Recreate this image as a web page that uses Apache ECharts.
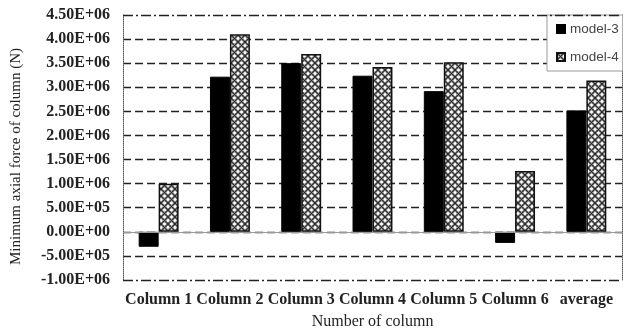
<!DOCTYPE html>
<html>
<head>
<meta charset="utf-8">
<script src="https://cdn.jsdelivr.net/npm/echarts@6/dist/echarts.min.js"></script>
<style>html,body{margin:0;padding:0;background:#fff;}#c{width:623px;height:336px;}</style>
</head>
<body>
<div id="c"></div>
<script>
const categories = ['Column 1','Column 2','Column 3','Column 4','Column 5','Column 6','average'];
const model3 = [-3.1e5, 3.22e6, 3.5e6, 3.24e6, 2.92e6, -2.3e5, 2.52e6];
const model4 = [1.0e6, 4.1e6, 3.69e6, 3.42e6, 3.52e6, 1.26e6, 3.14e6];
const yMin = -1.0e6, yMax = 4.5e6, yStep = 5e5;

function makePattern() {
  const s = 7;
  const c = document.createElement('canvas');
  c.width = s; c.height = s;
  const g = c.getContext('2d');
  g.fillStyle = '#fff'; g.fillRect(0, 0, s, s);
  g.strokeStyle = '#222'; g.lineWidth = 1.1;
  g.beginPath();
  g.moveTo(0, 0); g.lineTo(s, s);
  g.moveTo(s, 0); g.lineTo(0, s);
  g.stroke();
  g.strokeStyle = '#555'; g.lineWidth = 0.8;
  [[s/2, 0], [0, s/2], [s, s/2], [s/2, s]].forEach(function (p) {
    g.beginPath(); g.arc(p[0], p[1], 2.0, 0, Math.PI * 2); g.stroke();
  });
  return c;
}

function fmt(v) {
  if (v === 0) return '0.00E+00';
  const s = Math.abs(v).toExponential(2).split('e');
  const e = parseInt(s[1], 10);
  return (v < 0 ? '-' : '') + s[0] + 'E' + (e < 0 ? '-' : '+') + String(Math.abs(e)).padStart(2, '0');
}

const chart = echarts.init(document.getElementById('c'), null, {renderer: 'canvas'});
const serif = 'Liberation Serif';
chart.setOption({
  animation: false,
  backgroundColor: '#fff',
  grid: {left: 123, right: 1, top: 15, bottom: 56, containLabel: false},
  legend: {
    orient: 'vertical',
    left: 547, top: 15,
    padding: [7, 4, 7, 9],
    itemGap: 14,
    itemWidth: 8, itemHeight: 8,
    backgroundColor: '#fff',
    borderColor: '#999', borderWidth: 1,
    icon: 'rect',
    textStyle: {fontFamily: 'Liberation Sans', fontSize: 13.5, color: '#444'},
    data: ['model-3', 'model-4']
  },
  xAxis: {
    type: 'category',
    data: categories,
    axisLine: {show: false, onZero: false},
    axisTick: {show: false},
    axisLabel: {interval: 0, margin: 12, fontFamily: serif, fontWeight: 'bold', fontSize: 16, color: '#222'},
    name: 'Number of column',
    nameLocation: 'middle',
    nameGap: 34,
    nameTextStyle: {fontFamily: serif, fontSize: 16, color: '#222'}
  },
  yAxis: [{
    type: 'value',
    min: yMin, max: yMax, interval: yStep,
    axisLine: {show: true, lineStyle: {type: 'dotted', color: '#555', width: 1}},
    axisTick: {show: false},
    axisLabel: {margin: 13, formatter: fmt, fontFamily: serif, fontWeight: 'bold', fontSize: 16, color: '#222'},
    splitLine: {show: true, showMinLine: false, showMaxLine: false, lineStyle: {type: [8, 4], color: '#222', width: 1.3}},
    name: 'Minimum axial force of column (N)',
    nameLocation: 'middle',
    nameGap: 99,
    nameTextStyle: {fontFamily: serif, fontSize: 15, color: '#222', padding: [0, 18, 0, 0]}
  }, {
    type: 'value', position: 'right',
    min: yMin, max: yMax, interval: yStep,
    axisLine: {show: true, lineStyle: {type: 'dotted', color: '#555', width: 1}},
    axisTick: {show: false}, axisLabel: {show: false}, splitLine: {show: false}
  }],
  series: [{
    name: 'model-3',
    type: 'bar',
    data: model3,
    barGap: '0%',
    barCategoryGap: '44%',
    itemStyle: {color: '#000', borderColor: '#000', borderWidth: 1},
    markLine: {
      silent: true, symbol: 'none', label: {show: false},
      data: [
        {yAxis: yMax, lineStyle: {type: [10, 3, 2, 3], color: '#222', width: 1.3}},
        {yAxis: yMin, lineStyle: {type: [10, 3, 2, 3], color: '#222', width: 1.3}},
        {yAxis: 0, lineStyle: {type: 'solid', color: '#999', width: 1}}
      ]
    }
  }, {
    name: 'model-4',
    type: 'bar',
    data: model4,
    itemStyle: {color: {image: makePattern(), repeat: 'repeat'}, borderColor: '#111', borderWidth: 1.5}
  }]
});
</script>
</body>
</html>
